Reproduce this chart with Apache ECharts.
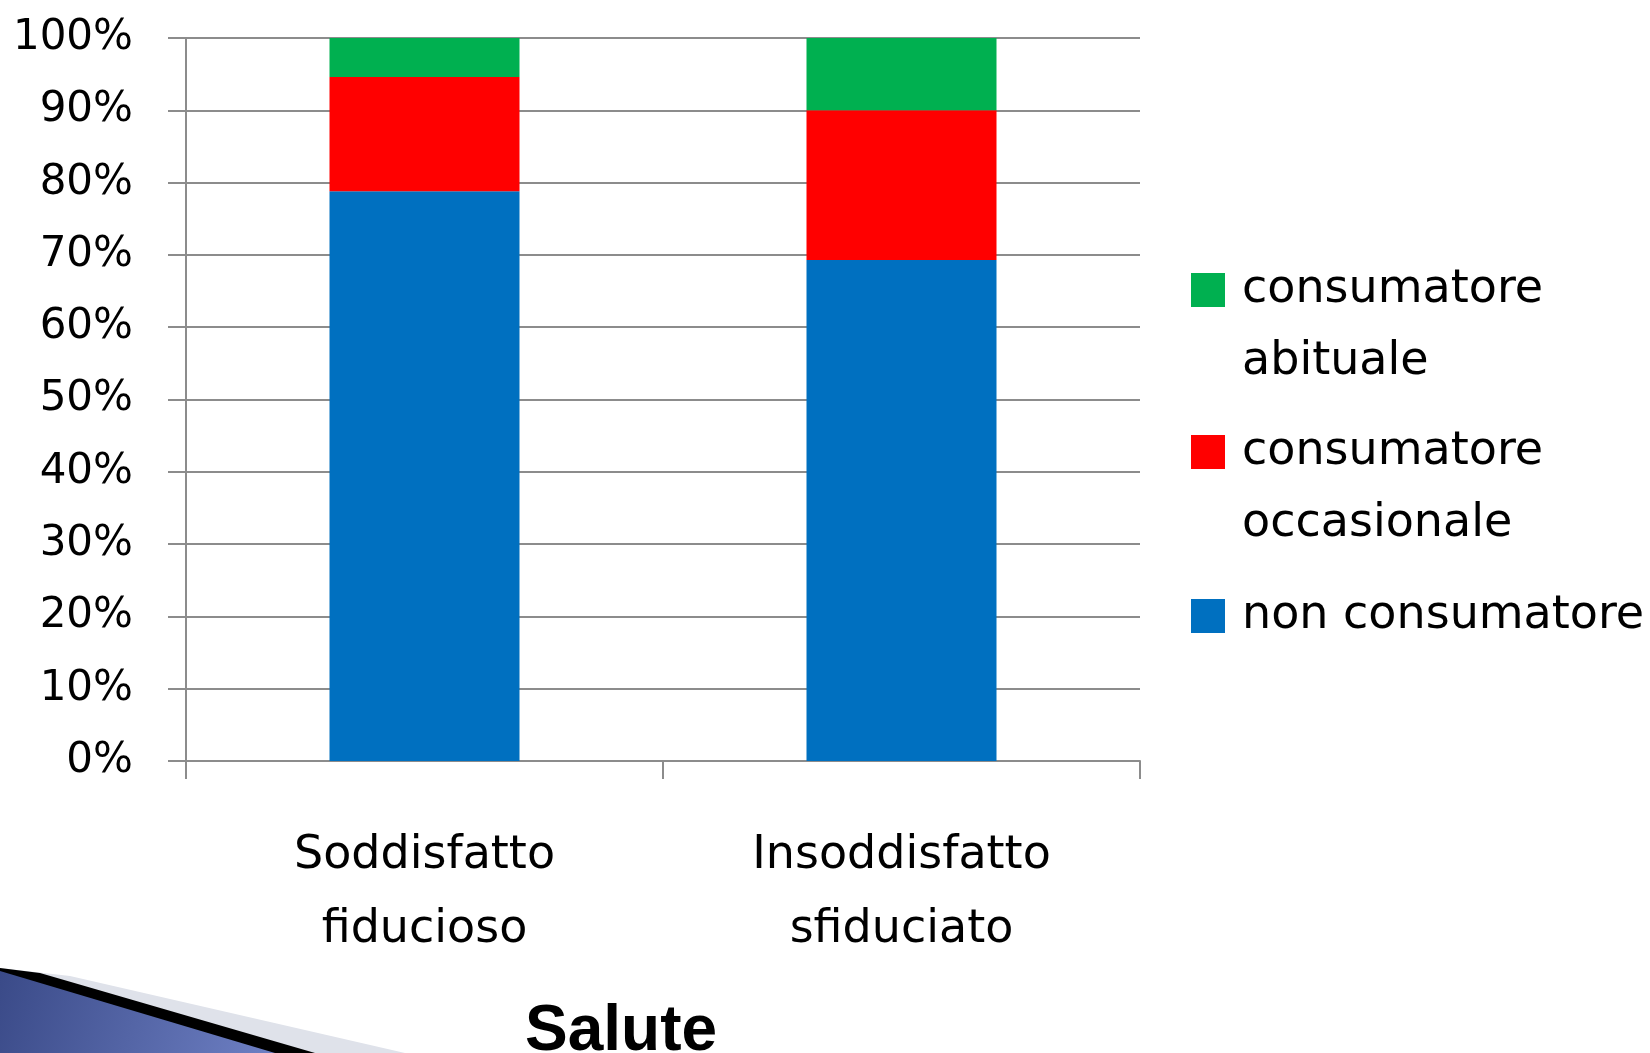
<!DOCTYPE html>
<html>
<head>
<meta charset="utf-8">
<script src="https://cdn.jsdelivr.net/npm/echarts@6/dist/echarts.min.js"></script>
<style>
html,body{margin:0;padding:0;background:#fff;}
#chart{width:1650px;height:1053px;}
</style>
</head>
<body>
<div id="chart"></div>
<script>
const categories = ['Soddisfatto\nfiducioso', 'Insoddisfatto\nsfiduciato'];
const nonConsumatore = [78.8, 69.3];
const consumatoreOccasionale = [15.8, 20.7];
const consumatoreAbituale = [5.4, 10.0];
const yTicks = [0, 10, 20, 30, 40, 50, 60, 70, 80, 90, 100];
const seriesNames = ['non consumatore', 'consumatore occasionale', 'consumatore abituale'];
const title = 'Salute';

const FONT = 'DejaVu Sans';
const chart = echarts.init(document.getElementById('chart'));

function legendFor(name, top, twoLines) {
  return {
    orient: 'vertical',
    left: 1186,
    top: top,
    icon: 'rect',
    itemWidth: 34,
    itemHeight: 34,
    data: [name],
    selectedMode: false,
    formatter: function (n) { return twoLines ? '\n' + n.replace(' ', '\n') : n; },
    textStyle: {
      fontFamily: FONT,
      fontSize: 46,
      color: '#000',
      lineHeight: 72,
      padding: [0, 0, 0, 12]
    }
  };
}

chart.setOption({
  animation: false,
  backgroundColor: '#fff',
  title: {
    text: title,
    left: 616,
    textAlign: 'center',
    top: 995,
    textStyle: {fontFamily: 'Liberation Sans', fontWeight: 'bold', fontSize: 64, color: '#000'}
  },
  legend: [
    legendFor(seriesNames[2], 177, true),
    legendFor(seriesNames[1], 339, true),
    legendFor(seriesNames[0], 575, false)
  ],
  grid: {left: 186, right: 510, top: 38, bottom: 292, containLabel: false},
  xAxis: {
    type: 'category',
    data: categories,
    axisLine: {lineStyle: {color: '#8c8c8c', width: 2}},
    axisTick: {show: true, length: 18, lineStyle: {color: '#8c8c8c', width: 2}},
    axisLabel: {
      margin: 58,
      fontFamily: FONT,
      fontSize: 46,
      color: '#000',
      lineHeight: 74
    }
  },
  yAxis: {
    type: 'value',
    min: 0,
    max: 100,
    interval: 10,
    axisLine: {show: true, lineStyle: {color: '#8c8c8c', width: 2}},
    axisTick: {show: true, length: 18, lineStyle: {color: '#8c8c8c', width: 2}},
    splitLine: {show: true, lineStyle: {color: '#8c8c8c', width: 2}},
    axisLabel: {
      margin: 53,
      fontFamily: FONT,
      fontSize: 42,
      color: '#000',
      padding: [0, 0, 8, 0],
      formatter: function (v) { return yTicks.indexOf(v) >= 0 ? v + '%' : ''; }
    }
  },
  series: [
    {name: seriesNames[0], type: 'bar', stack: 's', data: nonConsumatore, barWidth: 190, itemStyle: {color: '#0070c0'}},
    {name: seriesNames[1], type: 'bar', stack: 's', data: consumatoreOccasionale, barWidth: 190, itemStyle: {color: '#ff0000'}},
    {name: seriesNames[2], type: 'bar', stack: 's', data: consumatoreAbituale, barWidth: 190, itemStyle: {color: '#00b050'}}
  ],
  graphic: [
    {type: 'polygon', shape: {points: [[0, 968], [70, 976], [405, 1053], [0, 1053]]}, style: {fill: '#dfe2ea'}, z: 1},
    {type: 'polygon', shape: {points: [[0, 968], [40, 973], [315, 1053], [0, 1053]]}, style: {fill: '#000'}, z: 2},
    {type: 'polygon', shape: {points: [[0, 971], [275, 1053], [0, 1053]]},
      style: {fill: new echarts.graphic.LinearGradient(0, 0, 1, 1, [{offset: 0, color: '#3a4a88'}, {offset: 1, color: '#6e80c4'}])}, z: 3}
  ]
});
</script>
</body>
</html>
